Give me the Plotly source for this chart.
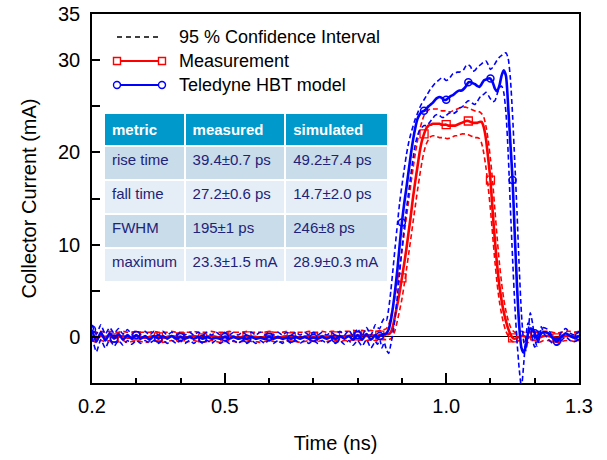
import plotly.graph_objects as go

# ---------------- data ----------------
time_ns = [
    0.20, 0.21, 0.22, 0.23, 0.24, 0.25, 0.26, 0.27, 0.28, 0.29,
    0.30, 0.31, 0.32, 0.33, 0.34, 0.35, 0.36, 0.37, 0.38, 0.39,
    0.40, 0.41, 0.42, 0.43, 0.44, 0.45, 0.46, 0.47, 0.48, 0.49,
    0.50, 0.51, 0.52, 0.53, 0.54, 0.55, 0.56, 0.57, 0.58, 0.59,
    0.60, 0.61, 0.62, 0.63, 0.64, 0.65, 0.66, 0.67, 0.68, 0.69,
    0.70, 0.71, 0.72, 0.73, 0.74, 0.75, 0.76, 0.77, 0.78, 0.79,
    0.80, 0.81, 0.82, 0.83, 0.84,
    0.845, 0.850, 0.855, 0.860, 0.865, 0.870, 0.875, 0.880, 0.885, 0.890,
    0.895, 0.900, 0.905, 0.910, 0.915, 0.920, 0.925, 0.930, 0.935, 0.940,
    0.945, 0.950, 0.955, 0.960, 0.965, 0.970, 0.975, 0.980, 0.985, 0.990,
    0.995, 1.000, 1.005, 1.010, 1.015, 1.020, 1.025, 1.030, 1.035, 1.040,
    1.045, 1.050, 1.055, 1.060, 1.065, 1.070, 1.075, 1.080, 1.085, 1.090,
    1.095, 1.100, 1.105, 1.110, 1.115, 1.120, 1.125, 1.130, 1.135, 1.140,
    1.145, 1.150, 1.155, 1.160, 1.165, 1.170, 1.175, 1.180, 1.185, 1.190,
    1.195, 1.200, 1.205, 1.210, 1.215, 1.220,
    1.23, 1.24, 1.25, 1.26, 1.27, 1.28, 1.29, 1.30,
]

meas_mA = [
    0.1, -0.1, 0.1, 0.0, 0.1, -0.1, 0.0, 0.1, -0.1, 0.0,
    0.1, 0.0, -0.1, 0.0, 0.1, 0.0, -0.1, 0.0, 0.1, 0.0,
    0.0, -0.1, 0.0, 0.1, 0.0, -0.1, 0.0, 0.1, 0.0, -0.1,
    0.0, 0.1, 0.0, -0.1, 0.0, 0.1, 0.0, 0.0, -0.1, 0.0,
    0.1, 0.0, -0.1, 0.0, 0.1, 0.0, 0.0, -0.1, 0.0, 0.1,
    0.0, 0.0, 0.1, 0.0, 0.1, 0.1, 0.0, 0.1, 0.1, 0.2,
    0.1, 0.2, 0.1, 0.2, 0.1,
    0.1, 0.2, 0.2, 0.2, 0.3, 0.3, 0.5, 1.2, 2.4, 3.6,
    4.9, 6.4, 7.9, 9.5, 11.3, 13.1, 15.1, 16.8, 18.4, 20.0,
    21.2, 22.0, 22.6, 22.9, 23.0, 23.1, 23.1, 23.1, 23.1, 23.0,
    23.0, 23.0, 22.9, 22.9, 22.9, 22.9, 23.0, 23.1, 23.2, 23.3,
    23.4, 23.4, 23.3, 23.2, 23.2, 23.2, 23.3, 23.3, 22.7, 21.4,
    19.3, 17.0, 13.6, 10.5, 7.8, 5.6, 4.0, 2.7, 1.7, 0.9,
    0.3, -0.1, -0.2, -0.1, 0.0, 0.1, 0.1, 0.0, -0.1, 0.0,
    0.1, 0.1, 0.0, -0.1, 0.0, 0.1,
    0.1, 0.0, -0.1, 0.0, 0.1, 0.1, 0.0, 0.1,
]
meas_upper_mA = [
    0.6, 0.5, 0.6, 0.5, 0.6, 0.5, 0.5, 0.6, 0.5, 0.5,
    0.6, 0.5, 0.5, 0.5, 0.6, 0.5, 0.5, 0.5, 0.6, 0.5,
    0.5, 0.5, 0.5, 0.6, 0.5, 0.5, 0.5, 0.6, 0.5, 0.5,
    0.5, 0.6, 0.5, 0.5, 0.5, 0.6, 0.5, 0.5, 0.5, 0.5,
    0.6, 0.5, 0.5, 0.5, 0.6, 0.5, 0.5, 0.5, 0.5, 0.6,
    0.5, 0.5, 0.6, 0.5, 0.6, 0.6, 0.5, 0.6, 0.6, 0.7,
    0.6, 0.7, 0.6, 0.7, 0.6,
    0.6, 0.7, 0.6, 0.8, 0.9, 1.3, 2.2, 3.3, 4.6, 6.0,
    7.6, 9.3, 11.1, 12.9, 14.7, 16.5, 18.2, 19.8, 21.2, 22.4,
    23.3, 24.0, 24.4, 24.6, 24.7, 24.7, 24.7, 24.7, 24.6, 24.5,
    24.5, 24.5, 24.4, 24.4, 24.5, 24.6, 24.7, 24.8, 24.9, 24.9,
    24.9, 24.8, 24.7, 24.6, 24.5, 24.5, 24.4, 24.2, 23.8, 22.8,
    21.3, 19.3, 16.8, 13.8, 10.8, 8.1, 5.9, 4.1, 2.8, 1.8,
    1.1, 0.7, 0.5, 0.5, 0.6, 0.6, 0.5, 0.5, 0.4, 0.5,
    0.6, 0.6, 0.5, 0.4, 0.5, 0.6,
    0.6, 0.5, 0.4, 0.5, 0.6, 0.6, 0.5, 0.6,
]
meas_lower_mA = [
    -0.4, -0.6, -0.4, -0.5, -0.4, -0.6, -0.5, -0.4, -0.6, -0.5,
    -0.4, -0.5, -0.6, -0.5, -0.4, -0.5, -0.6, -0.5, -0.4, -0.5,
    -0.5, -0.6, -0.5, -0.4, -0.5, -0.6, -0.5, -0.4, -0.5, -0.6,
    -0.5, -0.4, -0.5, -0.6, -0.5, -0.4, -0.5, -0.5, -0.6, -0.5,
    -0.4, -0.5, -0.6, -0.5, -0.4, -0.5, -0.5, -0.6, -0.5, -0.4,
    -0.5, -0.5, -0.4, -0.5, -0.4, -0.4, -0.5, -0.4, -0.4, -0.3,
    -0.4, -0.3, -0.4, -0.3, -0.4,
    -0.4, -0.3, -0.3, -0.3, -0.3, -0.3, -0.2, 0.1, 0.8, 1.8,
    2.9, 4.1, 5.6, 7.2, 8.9, 10.6, 12.4, 14.1, 15.8, 17.4,
    18.9, 20.1, 20.9, 21.4, 21.7, 21.8, 21.8, 21.7, 21.6, 21.6,
    21.6, 21.5, 21.5, 21.6, 21.7, 21.8, 21.8, 21.9, 22.0, 22.0,
    22.0, 21.9, 21.8, 21.7, 21.6, 21.6, 21.5, 21.0, 19.9, 18.3,
    16.2, 13.8, 11.0, 8.2, 5.8, 3.9, 2.5, 1.4, 0.6, 0.1,
    -0.3, -0.5, -0.6, -0.5, -0.4, -0.4, -0.5, -0.5, -0.6, -0.5,
    -0.4, -0.4, -0.5, -0.6, -0.5, -0.4,
    -0.4, -0.5, -0.6, -0.5, -0.4, -0.4, -0.5, -0.4,
]

model_mA = [
    0.8, -0.5, 0.5, -0.4, 0.4, -0.2, 0.3, -0.3, 0.2, -0.2,
    0.2, -0.2, 0.1, -0.3, 0.1, -0.2, 0.1, -0.2, 0.1, -0.2,
    0.0, -0.2, 0.0, -0.2, 0.0, -0.2, 0.0, -0.2, -0.1, -0.2,
    0.0, -0.2, 0.0, -0.2, -0.1, -0.2, 0.0, -0.2, -0.1, -0.2,
    0.0, -0.2, 0.0, -0.2, -0.1, -0.2, 0.0, -0.2, 0.0, -0.2,
    -0.1, -0.2, 0.0, -0.2, 0.0, -0.2, 0.1, -0.2, 0.1, -0.3,
    0.2, -0.3, 0.3, -0.3, 0.2,
    -0.1, 0.1, 0.2, 0.3, 0.4, 0.8, 1.8, 3.3, 5.2, 7.4,
    10.0, 12.4, 14.4, 16.1, 17.9, 19.7, 21.3, 22.6, 23.6, 24.1,
    24.4, 24.5, 24.7, 25.0, 25.2, 25.4, 25.7, 25.9, 26.0, 25.9,
    25.7, 25.7, 25.9, 26.1, 26.2, 26.4, 26.6, 26.7, 26.7, 26.9,
    27.2, 27.6, 27.6, 27.5, 27.4, 27.2, 27.1, 27.4, 27.8, 27.9,
    28.0, 28.0, 27.6, 26.9, 26.6, 27.2, 28.3, 28.9, 28.3, 25.0,
    21.0, 17.0, 11.0, 5.5, 1.2, -1.2, -1.7, -1.0, 0.4, 0.9,
    0.8, 0.4, -0.2, 0.0, 0.4, 0.5,
    0.4, -0.1, -0.5, 0.0, 0.4, 0.1, -0.1, 0.1,
]
model_upper_mA = [
    1.3, 0.3, 1.3, 0.3, 1.0, 0.4, 0.9, 0.3, 0.8, 0.3,
    0.7, 0.3, 0.6, 0.2, 0.6, 0.2, 0.6, 0.2, 0.5, 0.2,
    0.5, 0.2, 0.5, 0.2, 0.5, 0.2, 0.5, 0.2, 0.5, 0.2,
    0.5, 0.2, 0.5, 0.2, 0.5, 0.2, 0.5, 0.2, 0.5, 0.2,
    0.5, 0.2, 0.5, 0.2, 0.5, 0.2, 0.5, 0.2, 0.5, 0.2,
    0.5, 0.2, 0.5, 0.2, 0.5, 0.2, 0.6, 0.2, 0.7, 0.1,
    0.9, 0.1, 1.0, 0.2, 1.3,
    1.0, 0.9, 1.6, 2.0, 1.8, 3.0, 5.0, 7.4, 9.9, 12.3,
    14.6, 16.4, 18.1, 19.7, 21.0, 22.0, 22.8, 23.6, 24.2, 24.8,
    25.3, 25.7, 26.1, 26.5, 26.9, 27.2, 27.5, 27.7, 27.9, 28.1,
    28.0, 27.8, 27.9, 28.2, 28.5, 28.6, 28.7, 28.7, 28.8, 29.0,
    29.4, 29.5, 29.3, 28.8, 28.9, 29.2, 29.4, 29.6, 29.8, 29.9,
    29.5, 29.0, 29.2, 29.6, 30.0, 30.3, 30.5, 30.7, 30.8, 30.2,
    28.0, 24.0, 18.9, 13.5, 7.5, 2.5, -0.5, -1.5, 0.5, 2.6,
    1.5, -0.2, -1.0, -0.3, 0.9, 1.0,
    0.8, 0.1, -0.3, 0.5, 0.9, 0.4, 0.2, 0.6,
]
model_lower_mA = [
    0.0, -1.6, -0.3, -1.2, -0.3, -1.0, -0.4, -0.9, -0.4, -0.8,
    -0.4, -0.7, -0.4, -0.7, -0.4, -0.7, -0.4, -0.7, -0.4, -0.7,
    -0.4, -0.7, -0.4, -0.7, -0.4, -0.7, -0.4, -0.7, -0.4, -0.7,
    -0.4, -0.7, -0.4, -0.7, -0.4, -0.7, -0.4, -0.7, -0.4, -0.7,
    -0.4, -0.7, -0.4, -0.7, -0.4, -0.7, -0.4, -0.7, -0.4, -0.7,
    -0.4, -0.7, -0.4, -0.7, -0.4, -0.7, -0.4, -0.8, -0.4, -0.9,
    -0.4, -1.0, -0.3, -1.2, -0.5,
    -0.8, -0.3, -1.2, -0.6, -1.4, -1.8, -0.8, 0.5, 2.3, 4.5,
    7.0, 9.5, 11.8, 13.8, 15.6, 17.5, 19.3, 20.8, 21.8, 22.4,
    22.7, 22.9, 22.9, 23.1, 23.4, 23.7, 24.0, 24.1, 24.0, 23.8,
    23.8, 24.0, 24.2, 24.3, 24.2, 24.3, 24.5, 24.8, 24.9, 25.1,
    25.4, 25.6, 25.5, 25.3, 25.2, 25.5, 25.9, 26.2, 26.3, 26.5,
    26.2, 25.8, 25.5, 25.6, 26.3, 27.0, 27.2, 26.5, 24.3, 20.0,
    14.0, 8.5, 3.5, -0.5, -3.5, -5.5, -3.0, 0.0, 1.5, 1.2,
    -0.3, -1.1, -0.6, 0.6, 1.1, 0.4,
    -0.2, -0.7, -0.9, -0.4, 0.0, -0.4, -0.5, -0.3,
]

legend_labels = ["95 % Confidence Interval", "Measurement", "Teledyne HBT model"]

table_header = ["metric", "measured", "simulated"]
table_metric = ["rise time", "fall time", "FWHM", "maximum"]
table_measured = ["39.4±0.7 ps", "27.2±0.6 ps", "195±1 ps", "23.3±1.5 mA"]
table_simulated = ["49.2±7.4 ps", "14.7±2.0 ps", "246±8 ps", "28.9±0.3 mA"]

x_tick_vals = [0.2, 0.5, 1.0, 1.3]
x_tick_text = ["0.2", "0.5", "1.0", "1.3"]
x_minor_vals = [0.3, 0.4, 0.6, 0.7, 0.8, 0.9, 1.1, 1.2]
y_tick_vals = [0, 10, 20, 30, 35]
y_minor_vals = [5, 15, 25]

for s in (meas_mA, meas_upper_mA, meas_lower_mA, model_mA, model_upper_mA, model_lower_mA):
    assert len(s) == len(time_ns), (len(s), len(time_ns))

# ---------------- style ----------------
FONT = "Liberation Sans, Arial, Helvetica, sans-serif"
RED = "#FF0000"
BLUE = "#0000FF"
DASH = "5px,3px"

# marker points every 0.05 ns (subset of the data)
mk_idx = [i for i, t in enumerate(time_ns) if round(t * 1000) % 50 == 0]

fig = go.Figure()

def line(y, color, width, dash=None):
    fig.add_trace(go.Scatter(
        x=time_ns, y=y, mode="lines", showlegend=False, hoverinfo="skip",
        line=dict(color=color, width=width, dash=dash, shape="spline", smoothing=0.6),
    ))

line(meas_upper_mA, RED, 1.6, DASH)
line(meas_lower_mA, RED, 1.6, DASH)
line(meas_mA, RED, 2.6)
fig.add_trace(go.Scatter(
    x=[time_ns[i] for i in mk_idx], y=[meas_mA[i] for i in mk_idx],
    mode="markers", showlegend=False,
    marker=dict(symbol="square-open", size=8, color=RED, line=dict(width=1.3, color=RED)),
))
line(model_upper_mA, BLUE, 1.6, DASH)
line(model_lower_mA, BLUE, 1.6, DASH)
line(model_mA, BLUE, 2.6)
fig.add_trace(go.Scatter(
    x=[time_ns[i] for i in mk_idx], y=[model_mA[i] for i in mk_idx],
    mode="markers", showlegend=False,
    marker=dict(symbol="circle-open", size=7, color=BLUE, line=dict(width=1.5, color=BLUE)),
))

# results table (non-breaking space keeps "mA" on the same line)
def nb(lst):
    return [s.replace(" mA", "\u00a0mA") for s in lst]

row_fill = ["#C9DCEA", "#E5EEF6", "#C9DCEA", "#E5EEF6"]
fig.add_trace(go.Table(
    domain=dict(x=[0.0246, 0.608], y=[0.20, 0.7325]),
    columnwidth=[80, 100, 102],
    header=dict(
        values=[f"<b>{h}</b>" for h in table_header],
        fill_color="#0099CC", align="left", height=32,
        font=dict(family=FONT, size=15, color="white"),
        line=dict(color="white", width=2),
    ),
    cells=dict(
        values=[table_metric, nb(table_measured), nb(table_simulated)],
        fill_color=[row_fill, row_fill, row_fill], align="left", height=34,
        font=dict(family=FONT, size=15, color="#1E2378"),
        line=dict(color="white", width=2),
    ),
))

# custom legend (line with end markers, as in the original)
PX_W, PX_H = 487, 369
def px_x(p):
    return (p - 92) / PX_W
def px_y(p):
    return (383 - p) / PX_H

lx0, lx1 = px_x(117), px_x(162)
rows_y = [px_y(37), px_y(61), px_y(85)]
shapes = []
colors = ["black", RED, BLUE]
for k, yy in enumerate(rows_y):
    shapes.append(dict(type="line", xref="paper", yref="paper", x0=lx0, x1=lx1, y0=yy, y1=yy,
                       line=dict(color=colors[k], width=1.4 if k == 0 else 2.2,
                                 dash="5px,4px" if k == 0 else None)))
for k, sym in ((1, "rect"), (2, "circle")):
    for xx in (lx0, lx1):
        shapes.append(dict(type=sym, xref="paper", yref="paper",
                           xsizemode="pixel", ysizemode="pixel",
                           xanchor=xx, yanchor=rows_y[k],
                           x0=-3.5, x1=3.5, y0=-3.5, y1=3.5,
                           fillcolor="white", line=dict(color=colors[k], width=1.4)))
annotations = [dict(text=lab, xref="paper", yref="paper", x=px_x(177), y=yy,
                    xanchor="left", yanchor="middle", showarrow=False,
                    font=dict(family=FONT, size=18, color="black"))
               for lab, yy in zip(legend_labels, rows_y)]

fig.update_layout(
    width=607, height=460,
    margin=dict(l=92, r=28, t=14, b=77, autoexpand=False),
    paper_bgcolor="white", plot_bgcolor="white",
    font=dict(family=FONT, size=20, color="black"),
    showlegend=False,
    shapes=shapes, annotations=annotations,
    xaxis=dict(
        range=[0.2, 1.3], tickvals=x_tick_vals, ticktext=x_tick_text,
        ticks="inside", ticklen=10, tickwidth=1.5, tickcolor="black",
        showline=True, linecolor="black", linewidth=1.5, mirror=True,
        showgrid=False, zeroline=False, ticklabelstandoff=4, automargin=False,
        tickfont=dict(family=FONT, size=20),
        minor=dict(tickvals=x_minor_vals, ticks="inside", ticklen=5, tickwidth=1.5, tickcolor="black", showgrid=False),
        title=dict(text="Time (ns)", font=dict(family=FONT, size=20), standoff=20),
    ),
    yaxis=dict(
        range=[-5, 35], tickvals=y_tick_vals,
        ticks="inside", ticklen=8, tickwidth=1.5, tickcolor="black",
        showline=True, linecolor="black", linewidth=1.5, mirror=True,
        showgrid=False, zeroline=True, zerolinecolor="black", zerolinewidth=1,
        ticklabelstandoff=6, automargin=False,
        tickfont=dict(family=FONT, size=20),
        minor=dict(tickvals=y_minor_vals, ticks="inside", ticklen=8, tickwidth=1.5, tickcolor="black", showgrid=False),
        title=dict(text="Collector Current (mA)", font=dict(family=FONT, size=20), standoff=16),
    ),
)

fig.write_html("out.html", config={"displayModeBar": False},
               post_script="document.body.style.margin='0px';")
